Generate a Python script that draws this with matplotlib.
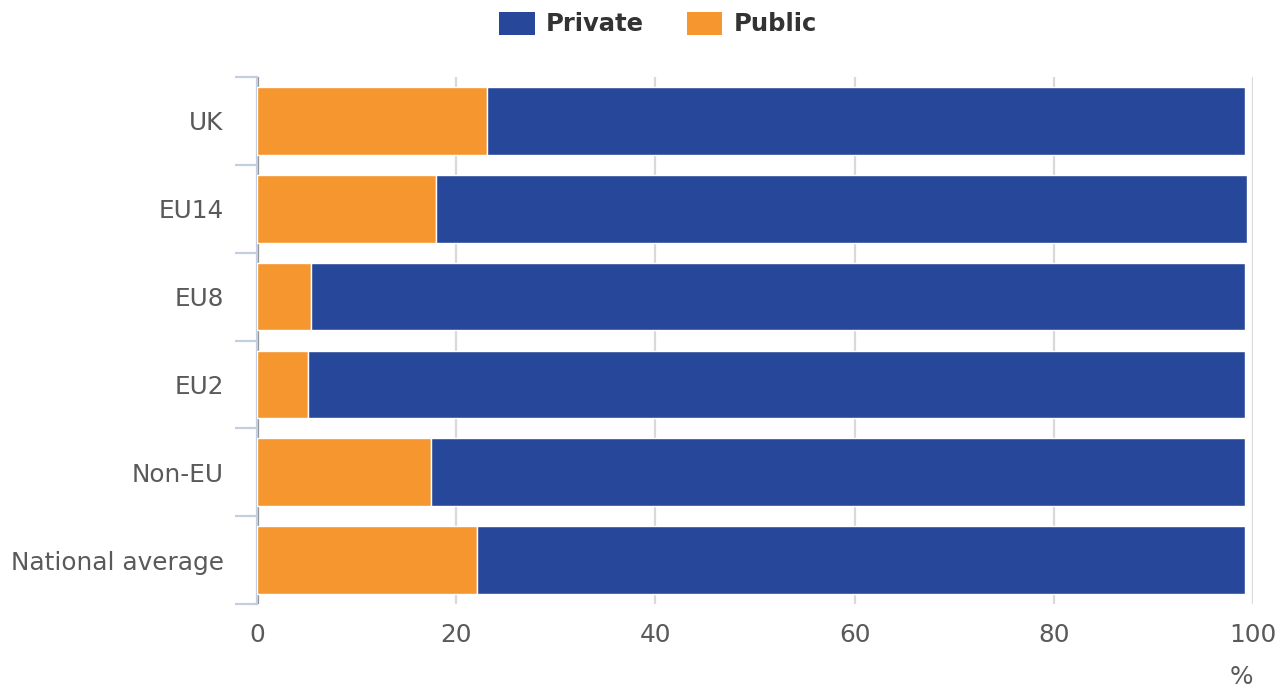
"""Public vs private share by nationality group - stacked horizontal bars."""

import matplotlib

matplotlib.use("Agg")
import matplotlib.pyplot as plt  # noqa: E402
import numpy as np  # noqa: E402
from matplotlib.patches import Patch  # noqa: E402

plt.rcParams["font.family"] = ["DejaVu Sans"]

categories = ["UK", "EU14", "EU8", "EU2", "Non-EU", "National average"]
public = [23.1, 18.0, 5.4, 5.1, 17.5, 22.1]
private = [76.1, 81.4, 93.8, 94.1, 81.7, 77.1]

PRIVATE_COLOR = "#27479a"
PUBLIC_COLOR = "#f5962f"
TEXT = "#5a5a5a"
FS = 17.8

fig = plt.figure(figsize=(12.86, 6.88), dpi=100)
ax = fig.add_axes([257 / 1286, 1 - 604 / 688, (1253 - 257) / 1286, (604 - 77) / 688])

y = np.arange(len(categories))
ax.barh(y, public, height=0.77, color=PUBLIC_COLOR, edgecolor="white", linewidth=1, zorder=3)
ax.barh(y, private, left=public, height=0.77, color=PRIVATE_COLOR,
        edgecolor="white", linewidth=1, zorder=3)

ax.set_ylim(len(categories) - 0.5, -0.5)
ax.set_xlim(0, 100)

# vertical grid, darker line at zero shows between the bars
ax.set_xticks([0, 20, 40, 60, 80, 100])
ax.grid(axis="x", color="#d9d9d9", linewidth=1.6, zorder=0)
ax.axvline(0.15, color="#888888", linewidth=1.6, zorder=1)
ax.tick_params(axis="x", length=0, pad=14, labelsize=FS, labelcolor=TEXT)

ax.set_yticks(y)
ax.set_yticklabels(categories)
ax.set_yticks(np.arange(len(categories) + 1) - 0.5, minor=True)
ax.tick_params(axis="y", which="major", length=0, pad=24, labelsize=FS, labelcolor=TEXT)
ax.tick_params(axis="y", which="minor", length=16, width=1.6, color="#c3cfe0")

for side in ("top", "right", "bottom"):
    ax.spines[side].set_visible(False)
ax.spines["left"].set_color("#c3cfe0")
ax.spines["left"].set_linewidth(1.6)

fig.text(1241 / 1286, 1 - 677 / 688, "%", ha="center", va="center", fontsize=FS, color=TEXT)

handles = [Patch(facecolor=PRIVATE_COLOR, label="Private"),
           Patch(facecolor=PUBLIC_COLOR, label="Public")]
fig.legend(handles=handles, loc="center", bbox_to_anchor=(658 / 1286, 1 - 24 / 688),
           ncol=2, frameon=False, prop={"weight": "bold", "size": 17.5},
           handlelength=1.45, handleheight=1.07, columnspacing=1.8, handletextpad=0.45,
           labelcolor="#333333")

fig.savefig("out.png", dpi=100, facecolor="white")
plt.close(fig)
